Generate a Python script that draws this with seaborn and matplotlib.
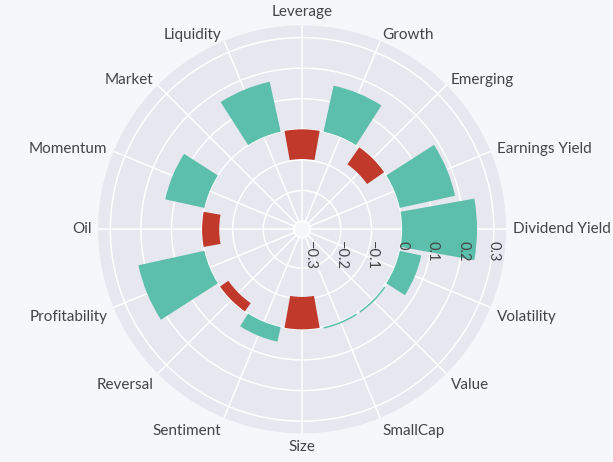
"""
Polar bar chart of factor exposures (teal = positive, red = negative).
"""
import numpy  as np
import pandas as pd
import matplotlib
matplotlib.use("Agg")
import matplotlib.pyplot as plt
import seaborn           as sns
from matplotlib.transforms import offset_copy


# ================================================================================
# Data
# ================================================================================
factors = [
    "Dividend Yield", "Earnings Yield", "Emerging", "Growth", "Leverage",
    "Liquidity", "Market", "Momentum", "Oil", "Profitability", "Reversal",
    "Sentiment", "Size", "SmallCap", "Value", "Volatility",
]
exposure = [
    0.245, 0.185, -0.068, 0.154, -0.097,
    0.167, 0.0, 0.131, -0.056, 0.221, -0.033,
    0.049, -0.106, 0.005, 0.005, 0.072,
]
r_ticks       = [-0.3, -0.2, -0.1, 0.0, 0.1, 0.2, 0.3]
r_tick_labels = ["\u22120.3", "\u22120.2", "\u22120.1", "0", "0.1", "0.2", "0.3"]

# --------------------------------------------------------------------------------
# Styling
# --------------------------------------------------------------------------------
TEAL, RED   = "#5cbfac", "#c0392b"
FIG_BG      = "#f5f7fb"
POLAR_BG    = "#e6e7ef"
TEXT_COLOR  = "#444444"
FONT        = ["Lato", "DejaVu Sans"]

sns.set_theme(style="darkgrid")
plt.rcParams["font.family"] = FONT

df = pd.DataFrame({
    "theta"   : np.deg2rad(np.arange(len(factors)) * 360 / len(factors)),
    "exposure": exposure,
})
df["sign"] = np.where(df["exposure"] < 0, "neg", "pos")

# ================================================================================
# Plotting
# ================================================================================
fig = plt.figure(figsize=(6.13, 4.62), dpi=100, facecolor=FIG_BG)
ax  = fig.add_axes([0.16, 0.062, 0.6656, 0.8831], projection="polar")
ax.set_facecolor(POLAR_BG)

sns.barplot(data=df, x="theta", y="exposure", hue="sign",
    palette     = {"pos": TEAL, "neg": RED},
    native_scale= True,
    dodge       = False,
    width       = 0.9,
    errorbar    = None,
    saturation  = 1,
    linewidth   = 0,
    legend      = False,
    ax          = ax,
)

# Axis ranges (small hole in the middle)
ax.set_theta_zero_location("E")
ax.set_theta_direction(1)
ax.set_xlim(0, 2 * np.pi)
ax.set_ylim(-0.3, 0.34)
ax.set_rorigin(-0.327)
ax.set_xlabel(""); ax.set_ylabel("")

# Grid
ax.set_xticks(df["theta"])
ax.set_xticklabels([])
ax.set_yticks(r_ticks)
ax.set_yticklabels([])
ax.grid(True, color="white", linewidth=1.1)
ax.spines["polar"].set_visible(False)
ax.tick_params(length=0)

# Angular labels (aligned by direction, plotly-like)
for th, name in zip(df["theta"], factors):
    c, s = np.cos(th), np.sin(th)
    ha = "left" if c > 0.01 else ("right" if c < -0.01 else "center")
    if   s >  0.99: va = "bottom"
    elif s < -0.01: va = "top"
    else:           va = "center"
    ax.text(th, 0.362, name, ha=ha, va=va, fontsize=11, color=TEXT_COLOR)

# Radial labels, rotated under the 0 deg spoke
lab_tr = offset_copy(ax.transData, fig=fig, x=0, y=-12, units="dots")
for v, lab in zip(r_ticks, r_tick_labels):
    ax.text(0, v, lab, transform=lab_tr, rotation=-90,
            ha="center", va="top", fontsize=10.5, color=TEXT_COLOR)

fig.savefig("out.png", dpi=100, facecolor=FIG_BG)
